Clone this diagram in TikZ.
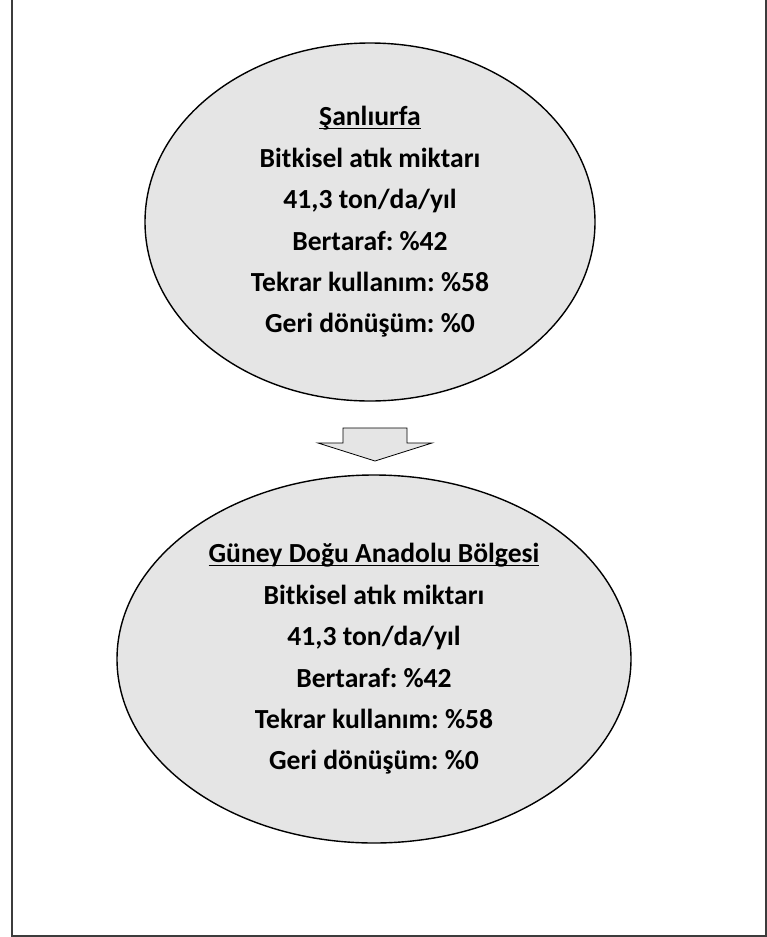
\documentclass[tikz,border=0pt]{standalone}
\usepackage{fontspec}
\setmainfont{Carlito}
\usetikzlibrary{shapes.geometric}
\definecolor{ellfill}{RGB}{229,229,229}
\definecolor{framecol}{RGB}{60,60,60}
\newcommand{\ulx}[1]{\setbox0\hbox{#1}\rlap{\rule[-3pt]{\wd0}{1.3pt}}\box0}
\frenchspacing
\begin{document}
\begin{tikzpicture}[x=1pt,y=-1pt,
  bubble/.style={ellipse,draw=black,line width=1.4pt,fill=ellfill,inner sep=0pt,align=center,
    font=\fontsize{27.6}{41.4}\selectfont\bfseries\frenchspacing},
  framel/.style={draw=framecol,line width=2pt},
  blockarrow/.style={draw=black,line width=0.8pt,fill=ellfill,line join=miter}]
\useasboundingbox (0,0) rectangle (767,937);
\draw[framel] (12,0) -- (12,936) -- (766,936) -- (766,0);
\node[bubble,minimum width=450pt,minimum height=358pt] (top) at (370,222)
  {\ulx{Şanlıurfa}\\Bitkisel atık miktarı\\41,3 ton/da/yıl\\Bertaraf: \%42\\Tekrar kullanım: \%58\\Geri dönüşüm: \%0};
\node[bubble,minimum width=514pt,minimum height=368pt] (bot) at (374,659)
  {\ulx{Güney Doğu Anadolu Bölgesi}\\Bitkisel atık miktarı\\41,3 ton/da/yıl\\Bertaraf: \%42\\Tekrar kullanım: \%58\\Geri dönüşüm: \%0};
\coordinate (tip) at (375,461);
\draw[blockarrow] (tip) -- ++(57,-18) -- ++(-25,0) -- ++(0,-15) -- ++(-64,0) -- ++(0,15) -- ++(-25,0) -- cycle;
\end{tikzpicture}
\end{document}
